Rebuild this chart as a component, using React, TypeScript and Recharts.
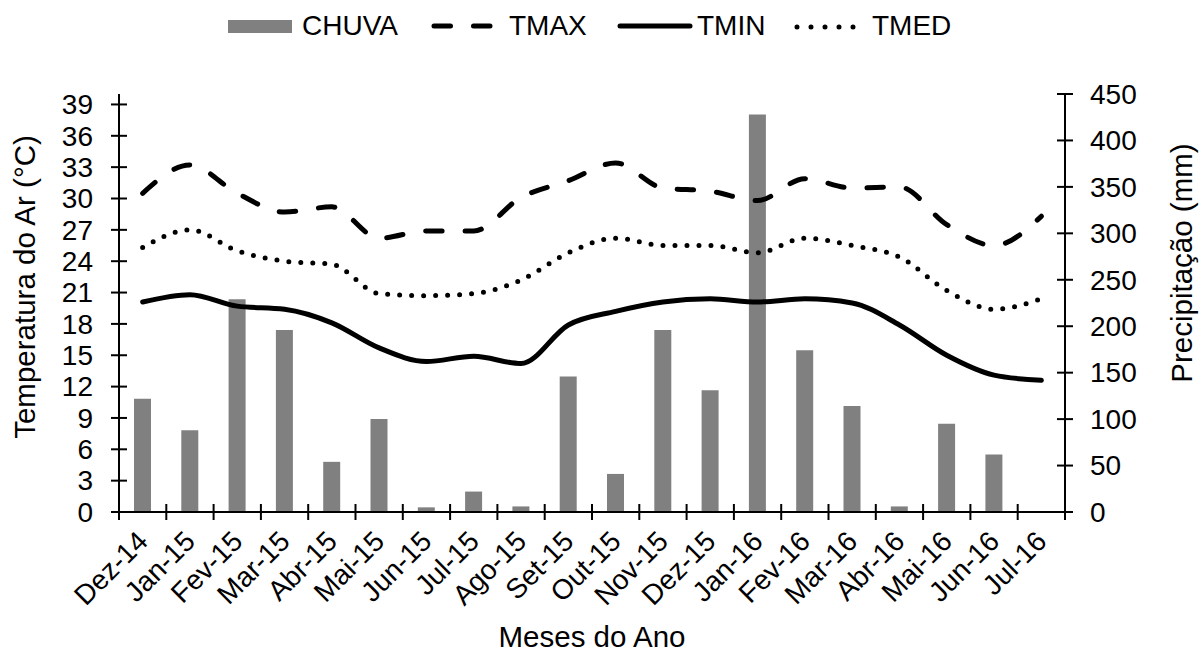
import React from 'react';
import { ComposedChart, Bar, Line, XAxis, YAxis, Legend, Label } from 'recharts';

const MONTHS = ['Dez-14', 'Jan-15', 'Fev-15', 'Mar-15', 'Abr-15', 'Mai-15', 'Jun-15', 'Jul-15', 'Ago-15', 'Set-15', 'Out-15', 'Nov-15', 'Dez-15', 'Jan-16', 'Fev-16', 'Mar-16', 'Abr-16', 'Mai-16', 'Jun-16', 'Jul-16'];
const CHUVA = [122, 88, 229, 196, 54, 100, 5, 22, 6, 146, 41, 196, 131, 428, 174, 114, 6, 95, 62, 0];
const TMAX = [30.5, 33.2, 30.5, 28.7, 29.2, 26.2, 26.9, 26.9, 30.1, 31.7, 33.4, 31.0, 30.7, 29.8, 31.9, 31.0, 31.1, 27.5, 25.5, 28.3];
const TMIN = [20.1, 20.8, 19.7, 19.4, 18.1, 15.7, 14.4, 14.9, 14.2, 17.9, 19.2, 20.1, 20.4, 20.1, 20.4, 20.0, 17.9, 15.0, 13.1, 12.6];
const TMED = [25.3, 27.0, 25.0, 24.0, 23.7, 20.9, 20.7, 20.9, 22.2, 24.8, 26.2, 25.5, 25.5, 24.8, 26.2, 25.5, 24.4, 21.2, 19.4, 20.4];
const TEMP_TICKS = [0, 3, 6, 9, 12, 15, 18, 21, 24, 27, 30, 33, 36, 39];
const TEMP_DOMAIN = [0, 40];
const PRECIP_TICKS = [0, 50, 100, 150, 200, 250, 300, 350, 400, 450];
const PRECIP_DOMAIN = [0, 450];

const data = MONTHS.map((m, i) => ({
  month: m,
  CHUVA: CHUVA[i],
  TMAX: TMAX[i],
  TMIN: TMIN[i],
  TMED: TMED[i],
}));

const FONT = '"Liberation Sans", Arial, Helvetica, sans-serif';
const TICK_FS = 28;
const TITLE_FS = 29.5;
const BAR_COLOR = '#808080';
const TMAX_DASH = '16.5 23';
const TMED_DASH = '0 12';

const XTick = (props: any) => {
  const { x, y, payload, index, width, visibleTicksCount } = props;
  const band = Number(width) / Number(visibleTicksCount);
  const ty = y + 24;
  return (
    <g>
      <line x1={x - band / 2} x2={x - band / 2} y1={y - 8} y2={y + 8} stroke="#000" strokeWidth={2} />
      {index === visibleTicksCount - 1 && (
        <line x1={x + band / 2} x2={x + band / 2} y1={y - 8} y2={y + 8} stroke="#000" strokeWidth={2} />
      )}
      <text
        x={x}
        y={ty}
        dy="0.35em"
        textAnchor="end"
        transform={`rotate(-45 ${x} ${ty})`}
        fontSize={TICK_FS}
        fontFamily={FONT}
        fill="#000"
      >
        {payload.value}
      </text>
    </g>
  );
};

const LeftTick = (props: any) => {
  const { x, y, payload } = props;
  return (
    <g>
      <line x1={x - 8} x2={x + 8} y1={y} y2={y} stroke="#000" strokeWidth={2} />
      <text x={x - 26} y={y} dy="0.35em" textAnchor="end" fontSize={TICK_FS} fontFamily={FONT} fill="#000">
        {payload.value}
      </text>
    </g>
  );
};

const RightTick = (props: any) => {
  const { x, y, payload } = props;
  return (
    <g>
      <line x1={x - 8} x2={x + 8} y1={y} y2={y} stroke="#000" strokeWidth={2} />
      <text x={x + 25} y={y} dy="0.35em" textAnchor="start" fontSize={TICK_FS} fontFamily={FONT} fill="#000">
        {payload.value}
      </text>
    </g>
  );
};

const LegendContent = () => (
  <svg width={1199} height={50} style={{ display: 'block' }}>
    <rect x={228} y={20} width={64} height={13} fill={BAR_COLOR} />
    <text x={302} y={34.5} fontSize={TICK_FS} fontFamily={FONT} fill="#000">CHUVA</text>
    <line x1={434} x2={502} y1={26} y2={26} stroke="#000" strokeWidth={5} strokeLinecap="round" strokeDasharray={TMAX_DASH} />
    <text x={509} y={34.5} fontSize={TICK_FS} fontFamily={FONT} fill="#000">TMAX</text>
    <line x1={620} x2={690} y1={26} y2={26} stroke="#000" strokeWidth={5} strokeLinecap="round" />
    <text x={697} y={34.5} fontSize={TICK_FS} fontFamily={FONT} fill="#000">TMIN</text>
    <line x1={797} x2={867} y1={27} y2={27} stroke="#000" strokeWidth={5} strokeLinecap="round" strokeDasharray="0 14" />
    <text x={872} y={34.5} fontSize={TICK_FS} fontFamily={FONT} fill="#000">TMED</text>
  </svg>
);

const LeftTitle = (props: any) => {
  const vb = props.viewBox;
  const cx = vb.x + 25;
  const cy = vb.y + vb.height / 2 - 16;
  return (
    <text x={cx} y={cy} dy="0.35em" textAnchor="middle" transform={`rotate(-90 ${cx} ${cy})`} fontSize={TITLE_FS} fontFamily={FONT} fill="#000">
      Temperatura do Ar (°C)
    </text>
  );
};

const RightTitle = (props: any) => {
  const vb = props.viewBox;
  const cx = vb.x + 117;
  const cy = vb.y + vb.height / 2 - 40;
  return (
    <text x={cx} y={cy} dy="0.35em" textAnchor="middle" transform={`rotate(-90 ${cx} ${cy})`} fontSize={TITLE_FS} fontFamily={FONT} fill="#000">
      Precipitação (mm)
    </text>
  );
};

const BottomTitle = (props: any) => {
  const vb = props.viewBox;
  const cx = vb.x + vb.width / 2;
  const cy = vb.y + 125;
  return (
    <text x={cx} y={cy} dy="0.35em" textAnchor="middle" fontSize={TITLE_FS} fontFamily={FONT} fill="#000">
      Meses do Ano
    </text>
  );
};

export default function App() {
  return (
    <div style={{ position: 'absolute', left: 0, top: 0, width: 1199, height: 656, background: '#fff' }}>
      <ComposedChart width={1199} height={656} data={data} margin={{ top: 94, right: 0, bottom: 0, left: 0 }}>
        <XAxis
          dataKey="month"
          xAxisId="x"
          height={144}
          interval={0}
          tickSize={0}
          tickMargin={0}
          tickLine={false}
          axisLine={{ stroke: '#000', strokeWidth: 2 }}
          tick={<XTick />}
        >
          <Label content={<BottomTitle />} />
        </XAxis>
        <YAxis
          yAxisId="t"
          orientation="left"
          width={119}
          domain={TEMP_DOMAIN}
          ticks={TEMP_TICKS}
          allowDataOverflow
          interval={0}
          tickSize={0}
          tickMargin={0}
          tickLine={false}
          axisLine={{ stroke: '#000', strokeWidth: 2 }}
          tick={<LeftTick />}
        >
          <Label content={<LeftTitle />} />
        </YAxis>
        <YAxis
          yAxisId="p"
          orientation="right"
          width={134}
          domain={PRECIP_DOMAIN}
          ticks={PRECIP_TICKS}
          allowDataOverflow
          interval={0}
          tickSize={0}
          tickMargin={0}
          tickLine={false}
          axisLine={{ stroke: '#000', strokeWidth: 2 }}
          tick={<RightTick />}
        >
          <Label content={<RightTitle />} />
        </YAxis>
        <Legend
          layout="vertical"
          align="center"
          verticalAlign="middle"
          content={<LegendContent />}
          wrapperStyle={{ position: 'absolute', left: 0, top: 0, width: 1199, height: 50 }}
        />
        <Bar dataKey="CHUVA" name="CHUVA" xAxisId="x" yAxisId="p" fill={BAR_COLOR} barSize={17} isAnimationActive={false} />
        <Line dataKey="TMAX" name="TMAX" xAxisId="x" yAxisId="t" type="monotone" stroke="#000" strokeWidth={5} strokeLinecap="round" strokeDasharray={TMAX_DASH} dot={false} activeDot={false} isAnimationActive={false} />
        <Line dataKey="TMIN" name="TMIN" xAxisId="x" yAxisId="t" type="monotone" stroke="#000" strokeWidth={5} strokeLinecap="round" dot={false} activeDot={false} isAnimationActive={false} />
        <Line dataKey="TMED" name="TMED" xAxisId="x" yAxisId="t" type="monotone" stroke="#000" strokeWidth={5} strokeLinecap="round" strokeDasharray={TMED_DASH} dot={false} activeDot={false} isAnimationActive={false} />
      </ComposedChart>
    </div>
  );
}
